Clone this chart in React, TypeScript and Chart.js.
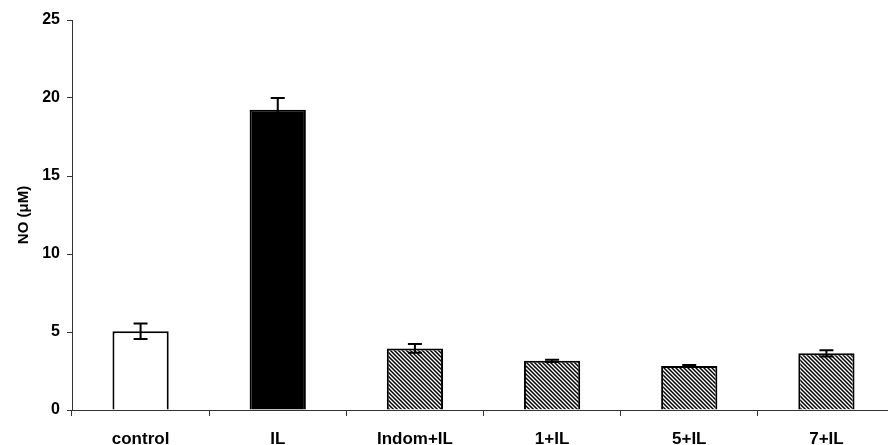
import React, { useEffect, useRef } from "react";
import { Chart, registerables } from "chart.js";

Chart.register(...registerables);

const categories = ["control", "IL", "Indom+IL", "1+IL", "5+IL", "7+IL"];
const means = [5.05, 19.25, 3.95, 3.15, 2.82, 3.63];
const errors = [0.5, 0.75, 0.28, 0.07, 0.07, 0.2];
const yMin = 0;
const yMax = 25;
const yStep = 5;
const yTitle = "NO (\u03BCM)";

function makeHatch(ctx: CanvasRenderingContext2D): CanvasPattern | string {
  const c = document.createElement("canvas");
  const s = 4;
  c.width = s;
  c.height = s;
  const g = c.getContext("2d");
  if (!g) return "#888";
  g.fillStyle = "#fff";
  g.fillRect(0, 0, s, s);
  g.strokeStyle = "#000";
  g.lineWidth = 1.5;
  g.beginPath();
  g.moveTo(-1, -1);
  g.lineTo(s + 1, s + 1);
  g.moveTo(-1, s - 1);
  g.lineTo(1, s + 1);
  g.moveTo(s - 1, -1);
  g.lineTo(s + 1, 1);
  g.stroke();
  return ctx.createPattern(c, "repeat") || "#888";
}

const errorBarPlugin = {
  id: "errorBars",
  afterDatasetsDraw(chart: any) {
    const { ctx, scales } = chart;
    const xs = scales.x;
    const ys = scales.y;
    ctx.save();
    ctx.strokeStyle = "#000";
    ctx.lineWidth = 2;
    const cap = 7;
    means.forEach((m, i) => {
      const x = xs.getPixelForValue(i);
      const yt = ys.getPixelForValue(m + errors[i]);
      const yb = ys.getPixelForValue(m - errors[i]);
      ctx.beginPath();
      ctx.moveTo(x, yt);
      ctx.lineTo(x, yb);
      ctx.moveTo(x - cap, yt);
      ctx.lineTo(x + cap, yt);
      ctx.moveTo(x - cap, yb);
      ctx.lineTo(x + cap, yb);
      ctx.stroke();
    });
    ctx.restore();
  },
};

export default function App() {
  const ref = useRef<HTMLCanvasElement | null>(null);
  useEffect(() => {
    const canvas = ref.current;
    if (!canvas) return;
    const ctx = canvas.getContext("2d");
    if (!ctx) return;
    const hatch = makeHatch(ctx);
    const chart = new Chart(canvas, {
      type: "bar",
      data: {
        labels: categories,
        datasets: [
          {
            data: means,
            backgroundColor: ["#ffffff", "#000000", hatch, hatch, hatch, hatch],
            borderColor: "#000",
            borderWidth: 2,
            categoryPercentage: 1,
            barPercentage: 0.41,
          },
        ],
      },
      options: {
        responsive: false,
        animation: false,
        layout: { padding: { top: 20, right: 1, left: 0, bottom: 0 } },
        plugins: { legend: { display: false }, tooltip: { enabled: false } },
        scales: {
          x: {
            grid: {
              display: true,
              drawOnChartArea: false,
              drawTicks: true,
              tickLength: 6,
              offset: true,
              color: "#333",
            },
            border: { color: "#333", width: 1 },
            ticks: {
              color: "#000",
              padding: 13,
              font: { family: "'Liberation Sans', Arial, sans-serif", weight: "bold", size: 17 },
            },
            afterFit: (s: any) => {
              s.height = 35;
            },
          },
          y: {
            min: yMin,
            max: yMax,
            grid: {
              display: true,
              drawOnChartArea: false,
              drawTicks: true,
              tickLength: 5,
              color: "#333",
            },
            border: { color: "#333", width: 1 },
            ticks: {
              stepSize: yStep,
              color: "#000",
              padding: 7,
              font: { family: "'Liberation Sans', Arial, sans-serif", weight: "bold", size: 16 },
            },
            title: {
              display: true,
              text: yTitle,
              color: "#000",
              padding: { top: 15, bottom: 0 },
              font: { family: "'Liberation Sans', Arial, sans-serif", weight: "bold", size: 15 },
            },
            afterFit: (s: any) => {
              s.width = 72;
            },
          },
        },
      },
      plugins: [errorBarPlugin],
    });
    return () => chart.destroy();
  }, []);
  return (
    <div style={{ position: "fixed", left: 0, top: 0, width: 896, height: 445, background: "#fff" }}>
      <canvas ref={ref} width={896} height={445} style={{ display: "block" }} />
    </div>
  );
}
